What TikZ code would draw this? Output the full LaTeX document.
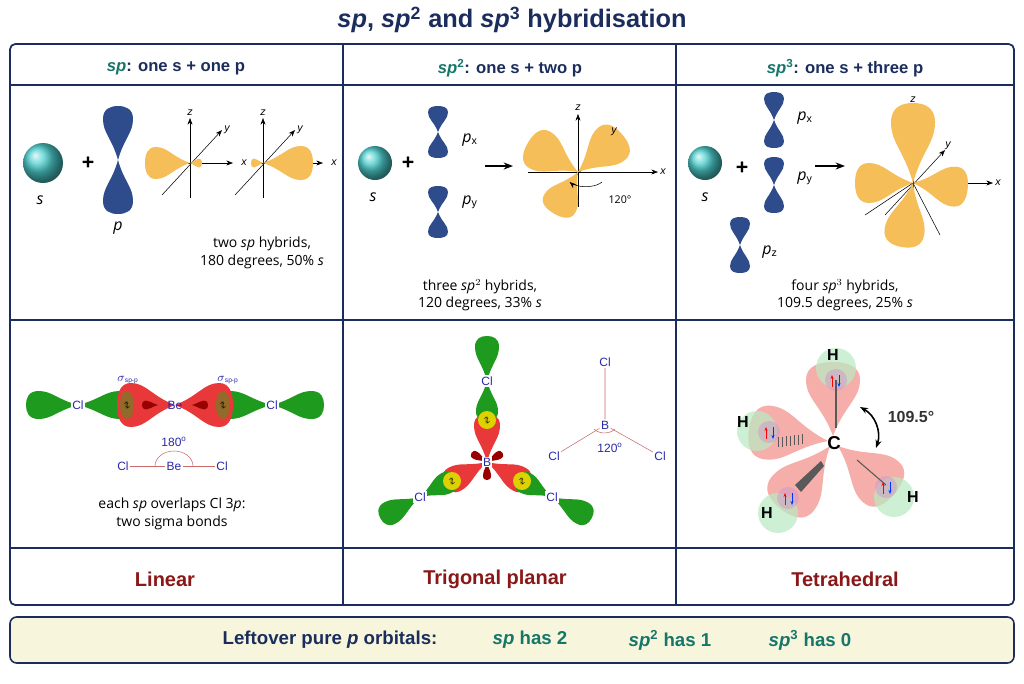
\documentclass[tikz,border=0pt]{standalone}
\usepackage{fontspec}
\setmainfont{Liberation Sans}
\newfontfamily\bodyf{Open Sans}
\usetikzlibrary{arrows.meta}
\definecolor{navy}{HTML}{1B2D5C}
\definecolor{tealc}{HTML}{16766A}
\definecolor{dred}{HTML}{8A1818}
\definecolor{porb}{HTML}{2E4C8C}
\definecolor{yel}{HTML}{F6BE58}
\definecolor{grn}{HTML}{1E9A1E}
\definecolor{red1}{HTML}{E8383A}
\definecolor{pink}{HTML}{F4A6A0}
\definecolor{hg}{HTML}{B8EBC4}
\definecolor{lbl}{HTML}{2A2AA8}
\definecolor{bondc}{HTML}{C86A6A}
\newcommand\lobe[6]{\begin{scope}[shift={(#1,#2)},rotate=-#3]\fill[#6] (0,0) .. controls (0.4*#4,0.2*#5) and (0.5*#4,0.5*#5) .. (0.76*#4,0.5*#5) .. controls (0.95*#4,0.5*#5) and (#4,0.25*#5) .. (#4,0) .. controls (#4,-0.25*#5) and (0.95*#4,-0.5*#5) .. (0.76*#4,-0.5*#5) .. controls (0.5*#4,-0.5*#5) and (0.4*#4,-0.2*#5) .. (0,0);\end{scope}}
\newcommand\axes[5]{% ox oy zlen xl xr
 \draw[-{Stealth[length=5pt]},thin] (#1,#2+35) -- (#1,#2-#3);
 \draw[-{Stealth[length=5pt]},thin] (#1-#4,#2) -- (#1+#5,#2);
 \draw[-{Stealth[length=5pt]},thin] (#1-28,#2+32) -- (#1+32,#2-33);
}
\begin{document}
\begin{tikzpicture}[x=0.75pt,y=-0.75pt,
  hdr/.style={font=\bfseries\fontsize{12.5}{14}\selectfont,text=navy},
  body/.style={font=\bodyf\fontsize{10.5}{13}\selectfont,align=center},
  shp/.style={font=\bfseries\fontsize{15}{17}\selectfont,text=dred},
  lab/.style={font=\fontsize{9}{10}\selectfont,text=lbl,inner sep=1pt},
  ax/.style={font=\itshape\fontsize{8}{9}\selectfont,inner sep=1pt},
  orl/.style={font=\bodyf\itshape\fontsize{12}{14}\selectfont}]
\useasboundingbox (0,0) rectangle (1024,683);
\fill[white] (0,0) rectangle (1024,683);
\node[font=\bfseries\fontsize{19}{22}\selectfont,text=navy] (title) at (512,20) {\textit{sp}, \textit{sp}$^{\mathbf 2}$ and \textit{sp}$^{\mathbf 3}$ hybridisation};
% frame
\draw[navy,line width=1.3pt,rounded corners=4pt] (10,44) rectangle (1014,605);
\draw[navy,line width=1pt] (10,85) -- (1014,85) (10,320) -- (1014,320) (10,548) -- (1014,548) (343,44) -- (343,605) (676,44) -- (676,605);
\node[hdr] (h1) at (176,68) {\textcolor{tealc}{\textit{sp}}: one s + one p};
\node[hdr] (h2) at (510,68) {\textcolor{tealc}{\textit{sp}$^{\mathbf 2}$}: one s + two p};
\node[hdr] (h3) at (845,68) {\textcolor{tealc}{\textit{sp}$^{\mathbf 3}$}: one s + three p};
% ===== panel 1 top
\shade[ball color=cyan!45!teal!70] (43,163) circle (20);
\node[orl] (s1) at (40,200) {s};
\node[font=\bfseries\fontsize{16}{16}\selectfont] (p1) at (88,163) {+};
\lobe{118}{160}{-90}{54}{30}{porb}
\lobe{118}{160}{90}{54}{30}{porb}
\node[orl] (pl) at (118,228) {p};
\axes{190}{163}{45}{42}{43}
\lobe{190}{163}{180}{45}{32}{yel}
\lobe{190}{163}{0}{12}{9}{yel}
\node[ax] at (190,113) {z}; \node[ax] at (227,130) {y}; \node[ax] at (244,163) {x};
\axes{263}{163}{45}{10}{60}
\lobe{263}{163}{0}{50}{34}{yel}
\lobe{263}{163}{180}{12}{9}{yel}
\node[ax] at (263,113) {z}; \node[ax] at (300,130) {y}; \node[ax] at (334,163) {x};
\node[body] (t1) at (262,253) {two \textit{sp} hybrids,\\180 degrees, 50\% \textit{s}};
% ===== panel 2 top
\shade[ball color=cyan!45!teal!70] (375,163) circle (17);
\node[orl] (s2) at (373,197) {s};
\node[font=\bfseries\fontsize{16}{16}\selectfont] (p2) at (408,163) {+};
\lobe{438}{132}{-90}{26}{20}{porb}\lobe{438}{132}{90}{26}{20}{porb}
\node[orl] at (470,140) {p$_{\mathrm x}$};
\lobe{438}{212}{-90}{26}{20}{porb}\lobe{438}{212}{90}{26}{20}{porb}
\node[orl] at (470,202) {p$_{\mathrm y}$};
\draw[-{Stealth[length=7pt]},line width=1.3pt] (485,166) -- (513,166);
\axes{578}{172}{58}{50}{80}
\lobe{578}{172}{-150}{58}{42}{yel}
\lobe{578}{172}{-40}{58}{42}{yel}
\lobe{578}{172}{120}{48}{36}{yel}
\node[ax] at (578,108) {z}; \node[ax] at (614,132) {y}; \node[ax] at (663,172) {x};
\draw[-{Stealth[length=5pt]},thin] (602,182) arc (-30:-150:14pt and 7pt);
\node[font=\bodyf\fontsize{8}{9}\selectfont] at (620,200) {120°};
\node[body] (t2) at (480,295) {three \textit{sp}$^2$ hybrids,\\120 degrees, 33\% \textit{s}};
% ===== panel 3 top
\shade[ball color=cyan!45!teal!70] (705,163) circle (17);
\node[orl] (s3) at (705,197) {s};
\node[font=\bfseries\fontsize{16}{16}\selectfont] (p3) at (742,168) {+};
\lobe{774}{120}{-90}{28}{20}{porb}\lobe{774}{120}{90}{28}{20}{porb}
\node[orl] at (805,118) {p$_{\mathrm x}$};
\lobe{774}{185}{-90}{28}{20}{porb}\lobe{774}{185}{90}{28}{20}{porb}
\node[orl] at (805,178) {p$_{\mathrm y}$};
\lobe{740}{245}{-90}{28}{20}{porb}\lobe{740}{245}{90}{28}{20}{porb}
\node[orl] at (770,252) {p$_{\mathrm z}$};
\draw[-{Stealth[length=7pt]},line width=1.3pt] (815,166) -- (845,166);
\draw[thin] (913,183) -- (865,215) (913,183) -- (940,235);
\axes{913}{183}{80}{55}{80}
\lobe{913}{183}{-90}{80}{44}{yel}
\lobe{913}{183}{180}{58}{40}{yel}
\lobe{913}{183}{5}{55}{40}{yel}
\lobe{913}{183}{100}{65}{40}{yel}
\node[ax] at (913,100) {z}; \node[ax] at (948,146) {y}; \node[ax] at (998,183) {x};
\node[body] (t3) at (845,295) {four \textit{sp}$^3$ hybrids,\\109.5 degrees, 25\% \textit{s}};
% ===== panel 1 bottom
\lobe{78}{405}{180}{52}{28}{grn}
\lobe{78}{405}{0}{55}{28}{grn}
\lobe{175}{405}{180}{58}{44}{red1}
\lobe{158}{405}{180}{16}{9}{red!60!black}
\lobe{272}{405}{0}{52}{28}{grn}
\lobe{272}{405}{180}{55}{28}{grn}
\lobe{175}{405}{0}{58}{44}{red1}
\lobe{192}{405}{0}{16}{9}{red!60!black}
\fill[olive!80!yellow!70!black,opacity=.8] (127,405) ellipse (7 and 14);
\fill[olive!80!yellow!70!black,opacity=.8] (223,405) ellipse (7 and 14);
\node[font=\fontsize{6}{6}\selectfont] at (127,405) {$\uparrow\!\!\downarrow$};
\node[font=\fontsize{6}{6}\selectfont] at (223,405) {$\uparrow\!\!\downarrow$};
\node[lab,fill=white] (cl1) at (78,405) {Cl};
\node[lab] (be1) at (175,405) {Be};
\node[lab,fill=white] (cl2) at (272,405) {Cl};
\node[lab] at (128,380) {$\sigma$\textsubscript{\tiny sp-p}};
\node[lab] at (228,380) {$\sigma$\textsubscript{\tiny sp-p}};
\node[lab] (cla) at (123,466) {Cl};
\node[lab] (bea) at (174,466) {Be};
\node[lab] (clb) at (222,466) {Cl};
\draw[bondc] (cla) -- (bea) (bea) -- (clb);
\draw[bondc] (155,466) arc (180:360:19 and 15);
\node[lab] at (174,442) {180$^{\mathrm o}$};
\node[body] (t4) at (172,514) {each \textit{sp} overlaps Cl 3\textit{p}:\\two sigma bonds};
% ===== panel 2 bottom
\foreach \a/\cx/\cy in {-90/487/381, 152/420/497, 28/552/497}{
  \lobe{487}{462}{\a}{48}{26}{red1}
  \lobe{\cx}{\cy}{\a+180}{40}{22}{grn}
  \lobe{\cx}{\cy}{\a}{45}{24}{grn}
}
\foreach \a in {-150,-30,90}{\lobe{487}{462}{\a}{18}{8}{red!60!black}}
\foreach \px/\py in {487/420, 452/481, 522/481}{
 \fill[yellow!70!olive] (\px,\py) circle (9);
 \node[font=\fontsize{6}{6}\selectfont] at (\px,\py) {$\uparrow\!\!\downarrow$};}
\node[lab,fill=white] (clt) at (487,381) {Cl};
\node[lab,fill=white] (cll) at (420,497) {Cl};
\node[lab,fill=white] (clr) at (552,497) {Cl};
\node[lab,fill=white] (b1) at (487,462) {B};
\node[lab] (b2) at (605,425) {B};
\node[lab] (c1) at (605,362) {Cl};
\node[lab] (c2) at (554,456) {Cl};
\node[lab] (c3) at (660,456) {Cl};
\draw[bondc] (b2) -- (c1) (b2) -- (c2) (b2) -- (c3);
\draw[bondc] (594,429) arc (150:30:12 and 8);
\node[lab] at (610,448) {120$^{\mathrm o}$};
% ===== panel 3 bottom
\begin{scope}[opacity=.9]
\lobe{833}{436}{-90}{74}{54}{pink}
\lobe{828}{441}{188}{80}{54}{pink}
\lobe{830}{446}{128}{80}{54}{pink}
\lobe{838}{446}{40}{74}{54}{pink}
\end{scope}
\fill[hg,opacity=.7] (836,368) circle (20) (757,431) circle (20) (778,513) circle (20) (894,497) circle (20);
\fill[violet!40,opacity=.5] (836,380) circle (11) (769,432) circle (11) (788,498) circle (11) (886,487) circle (11);
\draw[gray!70!black,thick] (836,380) -- (836,428);
\draw[gray!70!black,thick] (857,460) -- (886,485);
\foreach \i in {0,...,6}{\draw[gray!70!black] (778+\i*4,437-\i*0.5) -- (778+\i*4,447-\i*0.5);}
\fill[gray!70!black] (795,485) -- (821,461) -- (824,466) -- (801,492) -- cycle;
\foreach \x/\y in {836/381, 770/433, 789/499, 887/488}{
 \draw[red,-{Stealth[length=3pt]}] (\x-4,\y+6) -- (\x-4,\y-6);
 \draw[blue!80!cyan,-{Stealth[length=3pt]}] (\x+3,\y-6) -- (\x+3,\y+6);}
\node[font=\bfseries\fontsize{12}{12}\selectfont] (H1) at (833,355) {H};
\node[font=\bfseries\fontsize{12}{12}\selectfont] (H2) at (743,422) {H};
\node[font=\bfseries\fontsize{12}{12}\selectfont] (H3) at (767,513) {H};
\node[font=\bfseries\fontsize{12}{12}\selectfont] (H4) at (913,497) {H};
\node[font=\bfseries\fontsize{14}{14}\selectfont,inner sep=1pt] (C) at (834,443) {C};
\draw[{Stealth[length=6pt]}-{Stealth[length=6pt]},line width=1.2pt] (860,407) to[bend left=40] (876,448);
\node[font=\bfseries\fontsize{12}{12}\selectfont,text=black!80] at (911,417) {109.5°};
% ===== shape names
\node[shp] (n1) at (165,579) {Linear};
\node[shp] (n2) at (495,579) {Trigonal planar};
\node[shp] (n3) at (845,579) {Tetrahedral};
% ===== footer
\draw[navy,line width=1.2pt,rounded corners=5pt,fill={rgb,255:red,247;green,246;blue,220}] (10,617) rectangle (1014,663);
\node[font=\bfseries\fontsize{14}{16}\selectfont,text=navy] (f1) at (330,640) {Leftover pure \textit{p} orbitals:};
\node[font=\bfseries\fontsize{14}{16}\selectfont,text=tealc] (f2) at (530,640) {\textit{sp} has 2};
\node[font=\bfseries\fontsize{14}{16}\selectfont,text=tealc] (f3) at (670,640) {\textit{sp}$^{\mathbf 2}$ has 1};
\node[font=\bfseries\fontsize{14}{16}\selectfont,text=tealc] (f4) at (810,640) {\textit{sp}$^{\mathbf 3}$ has 0};
\end{tikzpicture}
\end{document}
